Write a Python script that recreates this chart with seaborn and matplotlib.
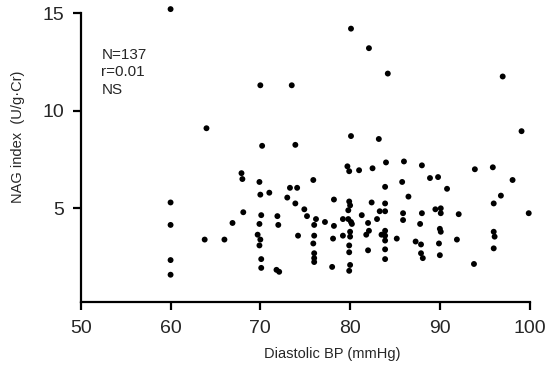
import matplotlib
matplotlib.use("Agg")
import matplotlib.pyplot as plt
import seaborn as sns
import pandas as pd

# Diastolic BP (mmHg) vs NAG index (U/g.Cr)
diastolic_bp = [
    60, 64, 70, 70.2, 67.9, 68, 69.9, 80.1, 82.1, 84.2,
    73.5, 97, 99.1, 73.9, 80.1, 83.2, 79.7, 79.9, 81, 82.5,
    84, 86, 88, 88.9, 89.8, 93.9, 95.9, 98.1, 75.9, 85.8,
    73.3, 74.1, 83.9, 90.8, 60, 60, 60, 60, 63.8, 66,
    66.9, 68.1, 70, 71, 70.1, 71.9, 69.9, 72, 69.7, 70,
    69.9, 70.1, 70.1, 71.8, 72.1, 73, 73.9, 74.9, 75.2, 76.2,
    76, 77.2, 78.2, 78.2, 74.2, 76, 75.9, 76, 76, 76,
    78, 78.1, 79.2, 79.2, 79.9, 80, 79.8, 79.8, 80.2, 80,
    80, 79.9, 79.9, 80, 79.9, 81.3, 82, 82.1, 81.8, 82,
    82.4, 83.3, 83, 83.9, 83.9, 83.5, 83.9, 83.9, 83.9, 83.9,
    83.9, 86.5, 85.9, 85.9, 85.2, 87.3, 88, 87.8, 87.9, 87.9,
    88.1, 89.5, 90.1, 90.1, 90, 90.1, 89.9, 90, 92.1, 91.9,
    93.8, 96, 96.8, 96, 96.1, 96, 99.9, 80.1,
]
nag_index = [
    15.2, 9.1, 11.3, 8.2, 6.8, 6.5, 6.35, 14.2, 13.2, 11.9,
    11.3, 11.75, 8.95, 8.25, 8.7, 8.55, 7.15, 6.9, 6.95, 7.05,
    7.35, 7.4, 7.2, 6.55, 6.6, 7.0, 7.1, 6.45, 6.45, 6.35,
    6.05, 6.05, 6.1, 6.0, 5.3, 4.15, 2.35, 1.6, 3.4, 3.4,
    4.25, 4.8, 5.7, 5.8, 4.65, 4.6, 4.2, 4.15, 3.65, 3.4,
    3.1, 2.4, 1.95, 1.85, 1.75, 5.55, 5.25, 4.95, 4.6, 4.45,
    4.15, 4.3, 4.1, 5.45, 3.6, 3.6, 3.2, 2.7, 2.45, 2.25,
    2.0, 3.45, 4.45, 3.6, 5.35, 5.15, 4.9, 4.45, 4.2, 3.8,
    3.55, 3.1, 2.75, 2.1, 1.8, 4.65, 4.25, 3.85, 3.65, 2.85,
    5.3, 4.85, 4.45, 5.25, 4.85, 3.65, 3.85, 3.6, 3.35, 2.9,
    2.4, 5.6, 4.75, 4.4, 3.45, 3.3, 4.75, 4.2, 3.15, 2.7,
    2.45, 4.95, 5.0, 4.75, 3.95, 3.8, 3.2, 2.6, 4.7, 3.4,
    2.15, 5.25, 5.65, 3.8, 3.55, 2.95, 4.75, 4.3,
]
x_ticks = [50, 60, 70, 80, 90, 100]
y_ticks = [5, 10, 15]
stats_text = "N=137\nr=0.01\nNS"

df = pd.DataFrame({"bp": diastolic_bp, "nag": nag_index})

sns.set_style("white")
plt.rcParams["font.family"] = ["Liberation Sans", "DejaVu Sans"]

fig = plt.figure(figsize=(5.46, 3.72), dpi=100)
ax = fig.add_axes([0.148, 0.188, 0.822, 0.777])

sns.scatterplot(
    data=df,
    x="bp",
    y="nag",
    color="black",
    s=18,
    edgecolor="none",
    ax=ax,
    clip_on=False
)

ax.set_xlim(50, 100)
ax.set_ylim(0.2, 15)
ax.set_xticks(x_ticks)
ax.set_yticks(y_ticks)

sns.despine(ax=ax)
for side in ["left", "bottom"]:
    ax.spines[side].set_linewidth(1.6)
    ax.spines[side].set_color("black")

# white style switches the tick marks off, turn them back on
ax.tick_params(axis="both", direction="out", length=6, width=1.6,
               color="black", labelsize=14, pad=6,
               bottom=True, left=True)
ax.tick_params(axis="x", pad=7)

ax.set_xlabel("Diastolic BP (mmHg)", fontsize=10.5)
ax.set_ylabel("NAG index  (U/g\u00b7Cr)", fontsize=10.5)
ax.xaxis.set_label_coords(0.56, -0.155)
ax.yaxis.set_label_coords(-0.125, 0.57)

ax.text(52.3, 13.2, stats_text, fontsize=11, va="top", ha="left",
        linespacing=1.3)

fig.savefig("out.png", dpi=100)
